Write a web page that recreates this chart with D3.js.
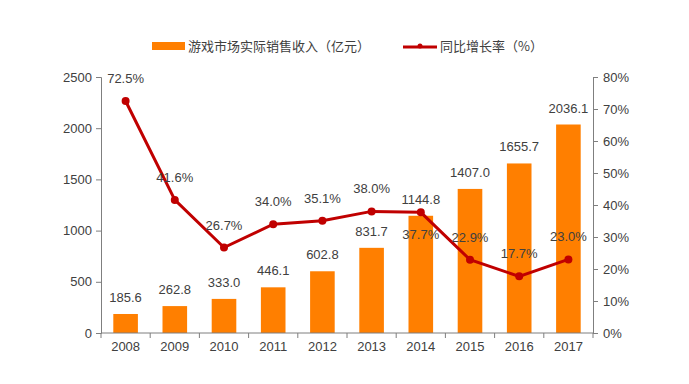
<!DOCTYPE html>
<html><head><meta charset="utf-8">
<script src="https://cdn.jsdelivr.net/npm/d3@7"></script>
<style>body{margin:0;background:#fff}svg{display:block;font-family:"Liberation Sans",Arial,"Noto Sans CJK SC",sans-serif}</style>
</head><body><svg id="c" width="689" height="384"></svg>
<script>
const years = ["2008","2009","2010","2011","2012","2013","2014","2015","2016","2017"];
const revenue = [185.6,262.8,333.0,446.1,602.8,831.7,1144.8,1407.0,1655.7,2036.1];
const growth = [72.5,41.6,26.7,34.0,35.1,38.0,37.7,22.9,17.7,23.0];
const growthLabelSide = ["above","above","above","above","above","above","below","above","above","above"];
const leftTicks = [0,500,1000,1500,2000,2500];
const rightTicks = [0,10,20,30,40,50,60,70,80];
const seriesNames = ["游戏市场实际销售收入（亿元）","同比增长率（%）"];

const svg = d3.select("#c");
const L = 101, R = 593, T = 77, B = 333;
const textColor = "#404040", axisColor = "#7f7f7f";
const barColor = "#FF7F00", lineColor = "#C00000";

const x = d3.scaleBand().domain(years).range([L, R]).paddingInner(0.5).paddingOuter(0.25);
const yL = d3.scaleLinear().domain([0,2500]).range([B,T]);
const yR = d3.scaleLinear().domain([0,80]).range([B,T]);

// bars
svg.selectAll("rect.bar").data(years).join("rect").attr("class","bar")
  .attr("x", d=>x(d)).attr("width", x.bandwidth())
  .attr("y", (d,i)=>yL(revenue[i])).attr("height",(d,i)=>B-yL(revenue[i]))
  .attr("fill", barColor);

// axes
const gl = svg.append("g").attr("transform",`translate(${L},0)`)
  .call(d3.axisLeft(yL).tickValues(leftTicks).tickSize(5).tickPadding(4).tickFormat(d3.format("d")));
const gr = svg.append("g").attr("transform",`translate(${R},0)`)
  .call(d3.axisRight(yR).tickValues(rightTicks).tickSize(5).tickPadding(5).tickFormat(d=>d+"%"));
const gx = svg.append("g").attr("transform",`translate(0,${B})`)
  .call(d3.axisBottom(x).tickSize(0).tickPadding(9));
// band-boundary ticks on x axis
const step = x.step();
const bounds = years.map(y=>x(y)+x.bandwidth()/2-step/2).concat([x(years[years.length-1])+x.bandwidth()/2+step/2]);
gx.selectAll("line.bt").data(bounds).join("line").attr("class","bt")
  .attr("x1",d=>d-L+L).attr("x2",d=>d).attr("y1",0).attr("y2",5).attr("stroke",axisColor);
gx.select(".domain").attr("d",`M${L},0H${R}`);
[gl,gr,gx].forEach(g=>{
  g.selectAll(".domain").attr("stroke",axisColor);
  g.selectAll(".tick line").attr("stroke",axisColor);
  g.selectAll("text").attr("fill",textColor).attr("font-size",13).attr("font-family","Liberation Sans, Arial, sans-serif");
});

// line
const cx = d=>x(d)+x.bandwidth()/2;
const line = d3.line().x((d,i)=>cx(years[i])).y(d=>yR(d));
svg.append("path").datum(growth).attr("d",line).attr("fill","none").attr("stroke",lineColor).attr("stroke-width",3);
svg.selectAll("circle.pt").data(growth).join("circle").attr("class","pt")
  .attr("cx",(d,i)=>cx(years[i])).attr("cy",d=>yR(d)).attr("r",4).attr("fill",lineColor);

// labels
svg.selectAll("text.bl").data(revenue).join("text").attr("class","bl")
  .attr("x",(d,i)=>cx(years[i])).attr("y",d=>yL(d)-12)
  .attr("text-anchor","middle").attr("fill",textColor).attr("font-size",13)
  .text(d=>d.toFixed(1));
svg.selectAll("text.gl").data(growth).join("text").attr("class","gl")
  .attr("x",(d,i)=>cx(years[i])).attr("y",(d,i)=>growthLabelSide[i]==="above"? yR(d)-18 : yR(d)+27)
  .attr("text-anchor","middle").attr("fill",textColor).attr("font-size",13)
  .text(d=>d.toFixed(1)+"%");

// legend
const lg = svg.append("g");
lg.append("rect").attr("x",152).attr("y",42).attr("width",33).attr("height",8).attr("fill",barColor);
lg.append("text").attr("x",188).attr("y",51).attr("fill",textColor).attr("font-size",13)
  .attr("font-family","Noto Sans CJK SC, sans-serif").text(seriesNames[0]);
lg.append("line").attr("x1",403).attr("x2",437).attr("y1",47).attr("y2",47).attr("stroke",lineColor).attr("stroke-width",3);
lg.append("circle").attr("cx",420).attr("cy",46).attr("r",2.5).attr("fill",lineColor);
lg.append("text").attr("x",440).attr("y",51).attr("fill",textColor).attr("font-size",13)
  .attr("font-family","Noto Sans CJK SC, sans-serif").text(seriesNames[1]);
</script></body></html>
